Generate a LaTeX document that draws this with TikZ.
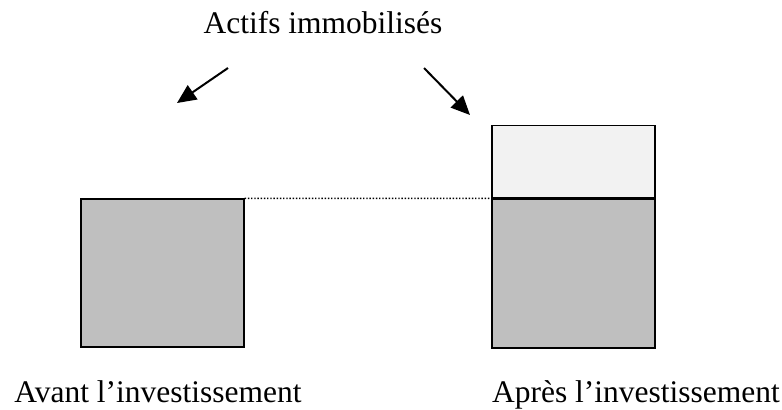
\documentclass[tikz,border=0pt]{standalone}
\usepackage{fontspec}
\setmainfont{Liberation Serif}
\usetikzlibrary{arrows.meta}

\definecolor{fixedgrey}{RGB}{191,191,191}
\definecolor{newgrey}{RGB}{242,242,242}

\tikzset{
  label text/.style={font=\fontsize{31.6}{37}\selectfont, anchor=base, inner sep=0pt},
  assetbox/.style={draw=black, line width=1.3bp, rectangle, inner sep=0pt,
                   minimum width=163bp},
  pointer/.style={line width=2bp, -{Triangle[length=19bp,width=17bp]}},
  level line/.style={line width=1.4bp, dash pattern=on 1.4bp off 1.8bp}
}

\begin{document}
\begin{tikzpicture}[x=1bp, y=-1bp]
  \useasboundingbox (0,0) rectangle (782,409);

  % caption above
  \node[label text] (title) at (323,33) {Actifs immobilisés};

  % before: existing fixed assets
  \node[assetbox, fill=fixedgrey, minimum height=148bp] (before) at (162.5,273) {};

  % after: existing assets plus the new investment on top
  \node[assetbox, fill=fixedgrey, minimum height=149bp] (afterlow) at (573.5,273.5) {};
  \node[assetbox, fill=newgrey, minimum height=72bp, anchor=south] (afterhigh) at (afterlow.north) {};

  % level of the assets before the investment
  \draw[level line] (before.north east) -- (afterlow.north west);

  % pointers from the caption
  \coordinate (p1s) at (228,68);
  \coordinate (p1e) at (177,103);
  \coordinate (p2s) at (424,68);
  \coordinate (p2e) at (470,115);
  \draw[pointer] (p1s) -- (p1e);
  \draw[pointer] (p2s) -- (p2e);

  % captions below
  \node[label text] (avant) at (158,402) {Avant l’investissement};
  \node[label text] (apres) at (636,402) {Après l’investissement};
\end{tikzpicture}
\end{document}
